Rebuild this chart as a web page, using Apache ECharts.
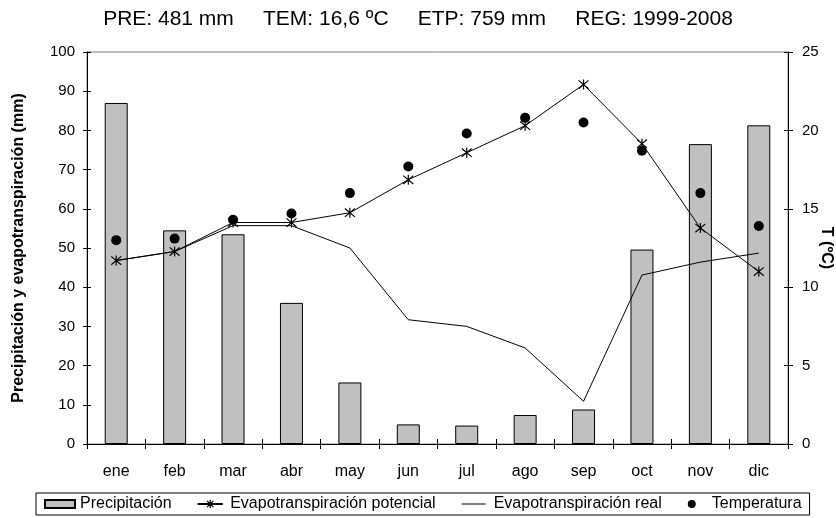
<!DOCTYPE html>
<html>
<head>
<meta charset="utf-8">
<script src="https://cdn.jsdelivr.net/npm/echarts@6/dist/echarts.min.js"></script>
<style>
  html, body { margin: 0; padding: 0; background: #fff; }
  #container { width: 836px; height: 518px; }
</style>
</head>
<body>
<div id="container"></div>
<script>
// datos mensuales
var meses = ['ene','feb','mar','abr','may','jun','jul','ago','sep','oct','nov','dic'];
var precipitacion = [87, 54.5, 53.5, 36, 15.7, 5, 4.7, 7.4, 8.8, 49.6, 76.5, 81.3];
var etp = [46.8, 49.1, 56.5, 56.5, 59, 67.4, 74.3, 81.2, 91.7, 76.6, 55.1, 44];
var etr = [46.8, 49.1, 55.7, 55.7, 50, 31.7, 30, 24.5, 10.9, 43.1, 46.4, 48.7];
var temperatura = [13, 13.1, 14.3, 14.7, 16, 17.7, 19.8, 20.8, 20.5, 18.7, 16, 13.9];

var fuente = 'Arial, "Liberation Sans", sans-serif';
var asterisco = 'path://M0,0L10,10M10,0L0,10M5,-1L5,11';
// iconos de leyenda (caja de 30x10 con la linea en medio)
var iconoLinea = 'path://M0,0L0.01,0L0.01,0.01ZM0,4.5L30,4.5L30,5.5L0,5.5ZM29.99,10L30,10L30,9.99Z';
var iconoAsterisco = 'path://M0,4.5L30,4.5L30,5.5L0,5.5ZM11,1L19,9M19,1L11,9M15,0L15,10';

var dom = document.getElementById('container');
var myChart = echarts.init(dom);
var option = {
    animation: false,
    backgroundColor: '#fff',
    textStyle: {fontFamily: fuente, color: '#000'},
    title: {
        text: 'PRE: 481 mm     TEM: 16,6 ºC     ETP: 759 mm     REG: 1999-2008',
        left: 'center',
        top: 4,
        textStyle: {fontFamily: fuente, fontSize: 21, fontWeight: 'normal', color: '#000'}
    },
    legend: {
        left: 36,
        top: 493,
        padding: [3, 8],
        itemWidth: 30,
        itemHeight: 8,
        itemGap: 26,
        borderColor: '#000',
        borderWidth: 1,
        backgroundColor: '#fff',
        textStyle: {fontFamily: fuente, fontSize: 16, color: '#000'},
        data: [
            {name: 'Precipitación', icon: 'rect'},
            {name: 'Evapotranspiración potencial', icon: iconoAsterisco,
                itemStyle: {color: '#000', borderColor: '#000', borderWidth: 1.2}},
            {name: 'Evapotranspiración real', icon: iconoLinea},
            {name: 'Temperatura', icon: 'circle'}
        ]
    },
    grid: {
        left: 87,
        right: 48,
        top: 52,
        bottom: 74,
        outerBoundsMode: 'none',
        show: true,
        borderColor: '#808080',
        borderWidth: 1
    },
    xAxis: [
        {
            type: 'category',
            position: 'bottom',
            data: meses,
            axisLine: {lineStyle: {color: '#000', width: 1}},
            axisTick: {show: true, length: 5, lineStyle: {color: '#000'}},
            axisLabel: {color: '#000', fontSize: 16, margin: 20, fontFamily: fuente},
            splitLine: {show: false}
        },
        {
            type: 'category',
            position: 'bottom',
            data: meses,
            axisLine: {show: false},
            axisTick: {show: true, inside: true, length: 5, lineStyle: {color: '#000'}},
            axisLabel: {show: false},
            splitLine: {show: false}
        }
    ],
    yAxis: [
        {
            type: 'value',
            position: 'left',
            min: 0, max: 100, interval: 10,
            name: 'Precipitación y evapotranspiración (mm)',
            nameLocation: 'middle',
            nameGap: 60,
            nameTextStyle: {fontFamily: fuente, fontSize: 16, fontWeight: 'bold', color: '#000'},
            axisLine: {show: true, lineStyle: {color: '#000'}},
            axisTick: {show: true, length: 4, lineStyle: {color: '#000'}},
            axisLabel: {color: '#000', fontSize: 15, margin: 12, fontFamily: fuente},
            splitLine: {show: false}
        },
        {
            type: 'value',
            position: 'right',
            min: 0, max: 25, interval: 5,
            name: 'T (ºC)',
            nameLocation: 'middle',
            nameRotate: -90,
            nameGap: 30,
            nameMoveOverlap: false,
            nameTextStyle: {fontFamily: fuente, fontSize: 16, fontWeight: 'bold', color: '#000'},
            axisLine: {show: true, lineStyle: {color: '#000'}},
            axisTick: {show: true, length: 5, lineStyle: {color: '#000'}},
            axisLabel: {color: '#000', fontSize: 15, margin: 14, fontFamily: fuente},
            splitLine: {show: false}
        },
        {
            type: 'value',
            position: 'left',
            min: 0, max: 100, interval: 10,
            axisLine: {show: false},
            axisTick: {show: true, inside: true, length: 4, lineStyle: {color: '#000'}},
            axisLabel: {show: false},
            splitLine: {show: false}
        },
        {
            type: 'value',
            position: 'right',
            min: 0, max: 25, interval: 5,
            axisLine: {show: false},
            axisTick: {show: true, inside: true, length: 4, lineStyle: {color: '#000'}},
            axisLabel: {show: false},
            splitLine: {show: false}
        }
    ],
    series: [
        {
            name: 'Precipitación',
            type: 'bar',
            data: precipitacion,
            barWidth: 23,
            itemStyle: {color: '#c0c0c0', borderColor: '#000', borderWidth: 1}
        },
        {
            name: 'Evapotranspiración potencial',
            type: 'line',
            data: etp,
            symbol: asterisco,
            symbolSize: 10,
            showAllSymbol: true,
            lineStyle: {color: '#000', width: 1},
            itemStyle: {color: '#000', borderColor: '#000', borderWidth: 1.2},
            z: 3
        },
        {
            name: 'Evapotranspiración real',
            type: 'line',
            data: etr,
            symbol: 'none',
            lineStyle: {color: '#000', width: 1},
            itemStyle: {color: '#000'},
            z: 3
        },
        {
            name: 'Temperatura',
            type: 'scatter',
            yAxisIndex: 1,
            data: temperatura,
            symbol: 'circle',
            symbolSize: 10,
            itemStyle: {color: '#000', opacity: 1},
            z: 4
        }
    ]
};
if (option && typeof option === 'object') {
    myChart.setOption(option, true);
}
</script>
</body>
</html>
